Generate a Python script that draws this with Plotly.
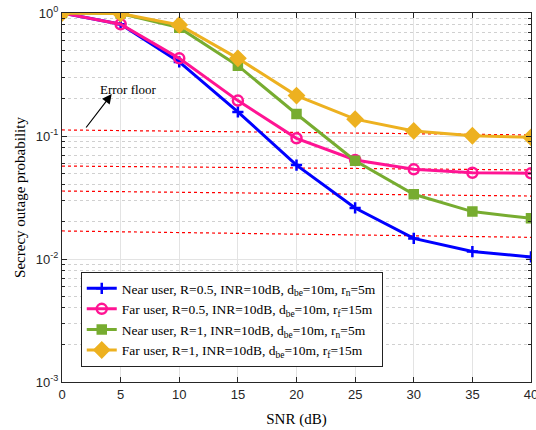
import plotly.graph_objects as go

snr = [0, 5, 10, 15, 20, 25, 30, 35, 40]
near_r05 = [1.0, 0.81, 0.40, 0.157, 0.058, 0.026, 0.0147, 0.0115, 0.0104]
far_r05 = [1.0, 0.81, 0.428, 0.194, 0.0958, 0.0638, 0.0536, 0.0503, 0.0497]
near_r1 = [1.0, 0.99, 0.76, 0.373, 0.151, 0.063, 0.0336, 0.0243, 0.0214]
far_r1 = [1.0, 0.99, 0.80, 0.428, 0.213, 0.137, 0.11, 0.1005, 0.0975]

floor_x = [0, 40]
floors = [[0.112, 0.102], [0.057, 0.053], [0.0357, 0.0325], [0.0169, 0.015]]

names = [
    "Near user, R=0.5, INR=10dB, d<sub>be</sub>=10m, r<sub>n</sub>=5m",
    "Far user, R=0.5, INR=10dB, d<sub>be</sub>=10m, r<sub>f</sub>=15m",
    "Near user, R=1, INR=10dB, d<sub>be</sub>=10m, r<sub>n</sub>=5m",
    "Far user, R=1, INR=10dB, d<sub>be</sub>=10m, r<sub>f</sub>=15m",
]
colors = ["#0000FF", "#FF1493", "#77AC30", "#EDB120"]
series = [near_r05, far_r05, near_r1, far_r1]
symbols = ["cross-thin", "circle-open", "square", "diamond"]
msizes = [8, 10, 8, 11]

SERIF = "Times New Roman, Liberation Serif, serif"
SANS = "Arial, Liberation Sans, Helvetica, sans-serif"

fig = go.Figure()

for fl in floors:
    fig.add_trace(go.Scatter(x=floor_x, y=fl, mode="lines", showlegend=False,
                             line=dict(color="#FF0000", width=1.2, dash="dot"),
                             hoverinfo="skip"))

for s, n, c, sym, ms in zip(series, names, colors, symbols, msizes):
    fig.add_trace(go.Scatter(x=snr, y=s, name=n, mode="lines+markers",
                             line=dict(color=c, width=3),
                             marker=dict(symbol=sym, size=ms, color=c,
                                         line=dict(color=c, width=2.5))))

minor_vals = [m * 10 ** e for e in (-3, -2, -1) for m in range(2, 10)]

fig.update_layout(
    width=536, height=430,
    margin=dict(l=62, r=5, t=13, b=48),
    paper_bgcolor="white", plot_bgcolor="white",
    font=dict(family=SERIF, size=13, color="#000"),
    legend=dict(x=0.04, y=0.298, xanchor="left", yanchor="top",
                bgcolor="white", bordercolor="#222", borderwidth=1,
                font=dict(family=SERIF, size=13.5, color="#000"),
                tracegroupgap=0, itemwidth=30),
    showlegend=True,
)

fig.update_xaxes(
    range=[0, 40], dtick=5, tick0=0, automargin=False,
    showline=True, linecolor="#262626", linewidth=1, mirror="ticks",
    ticks="inside", ticklen=5, tickcolor="#262626",
    showgrid=True, gridcolor="#E3E3E3", gridwidth=1, zeroline=False,
    ticklabeloverflow="allow",
    tickfont=dict(family=SANS, size=13, color="#262626"),
    title=dict(text="SNR (dB)", font=dict(family=SERIF, size=15, color="#000"), standoff=12),
)
fig.update_yaxes(
    type="log", range=[-3, 0], automargin=False,
    tickmode="array", tickvals=[0.001, 0.01, 0.1, 1],
    ticktext=["10<sup>-3</sup>", "10<sup>-2</sup>", "10<sup>-1</sup>", "10<sup>0</sup>"],
    showline=True, linecolor="#262626", linewidth=1, mirror="ticks",
    ticks="inside", ticklen=5, tickcolor="#262626",
    showgrid=True, gridcolor="#E3E3E3", gridwidth=1, zeroline=False,
    minor=dict(tickmode="array", tickvals=minor_vals, ticks="inside", ticklen=3,
               tickcolor="#262626", showgrid=True, gridcolor="#D0D0D0", griddash="dot", gridwidth=1),
    tickfont=dict(family=SANS, size=13, color="#262626"),
    title=dict(text="Secrecy outage probability", font=dict(family=SERIF, size=15, color="#000"), standoff=6),
)

fig.add_annotation(x=4.24, y=-0.659, ax=1.96, ay=-0.943, xref="x", yref="y", axref="x", ayref="y",
                   showarrow=True, arrowhead=2, arrowsize=1.6, arrowwidth=1.2, arrowcolor="#000",
                   text="", standoff=0, startstandoff=0)
fig.add_annotation(x=5.63, y=-0.618, xref="x", yref="y", text="Error floor", showarrow=False,
                   font=dict(family=SERIF, size=13, color="#000"))

fig.write_html("out.html")
